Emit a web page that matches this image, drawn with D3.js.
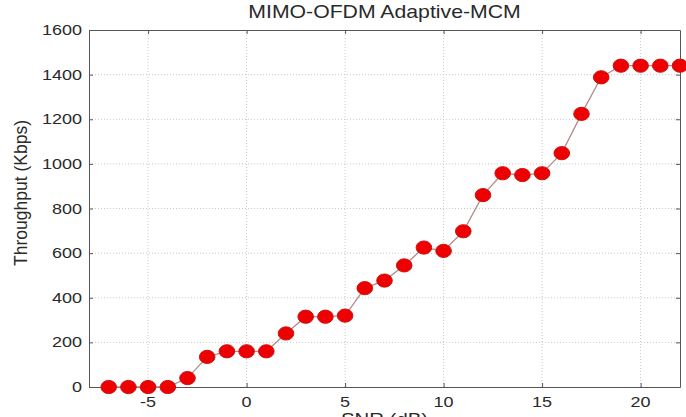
<!DOCTYPE html>
<html>
<head>
<meta charset="utf-8">
<script src="https://cdn.jsdelivr.net/npm/d3@7"></script>
<style>
  body { margin: 0; background: #fff; }
  text { font-family: "Liberation Sans", Arial, sans-serif; fill: #2a2a2a; }
</style>
</head>
<body>
<svg id="chart"></svg>
<script>
// data
var snr = [-7, -6, -5, -4, -3, -2, -1, 0, 1, 2, 3, 4, 5, 6, 7, 8, 9, 10, 11, 12, 13, 14, 15, 16, 17, 18, 19, 20, 21, 22];
var throughput = [0, 0, 0, 0, 40, 135, 160, 160, 160, 240, 315, 315, 320, 443, 477, 545, 625, 610, 698, 860, 958, 950, 958, 1048, 1224, 1388, 1440, 1440, 1440, 1440];
var xTicks = [-5, 0, 5, 10, 15, 20];
var yTicks = [0, 200, 400, 600, 800, 1000, 1200, 1400, 1600];

var W = 686, H = 417;
var margin = {top: 30, right: 6, bottom: 30, left: 89},
  width = W - margin.left - margin.right,
  height = H - margin.top - margin.bottom;

var svg = d3.select("#chart")
  .attr("width", W)
  .attr("height", H);

var x = d3.scaleLinear().domain([-8, 22]).range([margin.left, margin.left + width]);
var y = d3.scaleLinear().domain([0, 1600]).range([margin.top + height, margin.top]);

// the picture is stretched sideways, so is the text
var sx = 1.2;

// grid
svg.append("g")
  .selectAll("line")
  .data(xTicks)
  .enter()
  .append("line")
  .attr("x1", d => x(d)).attr("x2", d => x(d))
  .attr("y1", y(0)).attr("y2", y(1600))
  .attr("stroke", "#c8c8c8")
  .attr("stroke-dasharray", "1,2");

svg.append("g")
  .selectAll("line")
  .data(yTicks.slice(1, -1))
  .enter()
  .append("line")
  .attr("x1", x(-8)).attr("x2", x(22))
  .attr("y1", d => y(d)).attr("y2", d => y(d))
  .attr("stroke", "#c8c8c8")
  .attr("stroke-dasharray", "1,2");

// axes (ticks inside, box all round)
function clean(g) {
  g.select(".domain").attr("stroke", "#555");
  g.selectAll(".tick line").attr("stroke", "#555");
  g.selectAll(".tick text").remove();
}
svg.append("g")
  .attr("transform", "translate(0," + y(0) + ")")
  .call(d3.axisBottom(x).tickValues(xTicks).tickSizeInner(-4).tickSizeOuter(0))
  .call(clean);
svg.append("g")
  .attr("transform", "translate(0," + y(1600) + ")")
  .call(d3.axisTop(x).tickValues(xTicks).tickSizeInner(-4).tickSizeOuter(0))
  .call(clean);
svg.append("g")
  .attr("transform", "translate(" + x(-8) + ",0)")
  .call(d3.axisLeft(y).tickValues(yTicks).tickSizeInner(-4).tickSizeOuter(0))
  .call(clean);
svg.append("g")
  .attr("transform", "translate(" + x(22) + ",0)")
  .call(d3.axisRight(y).tickValues(yTicks).tickSizeInner(-4).tickSizeOuter(0))
  .call(clean);

// tick labels
svg.append("g")
  .selectAll("text")
  .data(xTicks)
  .enter()
  .append("text")
  .attr("transform", d => "translate(" + x(d) + "," + (y(0) + 20) + ") scale(" + sx + ",1)")
  .attr("text-anchor", "middle")
  .style("font-size", "15px")
  .text(d => d);

svg.append("g")
  .selectAll("text")
  .data(yTicks)
  .enter()
  .append("text")
  .attr("transform", d => "translate(" + (x(-8) - 7) + "," + (y(d) + 5) + ") scale(" + sx + ",1)")
  .attr("text-anchor", "end")
  .style("font-size", "15px")
  .text(d => d);

// line + markers
var line = d3.line()
  .x((d, i) => x(snr[i]))
  .y(d => y(d));

svg.append("path")
  .datum(throughput)
  .attr("d", line)
  .attr("fill", "none")
  .attr("stroke", "#b48c8c")
  .attr("stroke-width", 1.3);

svg.append("g")
  .selectAll("ellipse")
  .data(throughput)
  .enter()
  .append("ellipse")
  .attr("cx", (d, i) => x(snr[i]))
  .attr("cy", d => y(d))
  .attr("rx", 7.8)
  .attr("ry", 6.6)
  .attr("fill", "#ee0000")
  .attr("stroke", "#d01010")
  .attr("stroke-width", 1);

// titles
svg.append("text")
  .attr("transform", "translate(" + (margin.left + width / 2) + ",18) scale(1.18,1)")
  .attr("text-anchor", "middle")
  .style("font-size", "18px")
  .text("MIMO-OFDM Adaptive-MCM");

svg.append("text")
  .attr("transform", "translate(" + (margin.left + width / 2) + ",425) scale(" + sx + ",1)")
  .attr("text-anchor", "middle")
  .style("font-size", "17px")
  .text("SNR (dB)");

svg.append("text")
  .attr("transform", "translate(27,193) rotate(-90)")
  .attr("text-anchor", "middle")
  .style("font-size", "17.5px")
  .text("Throughput (Kbps)");
</script>
</body>
</html>
